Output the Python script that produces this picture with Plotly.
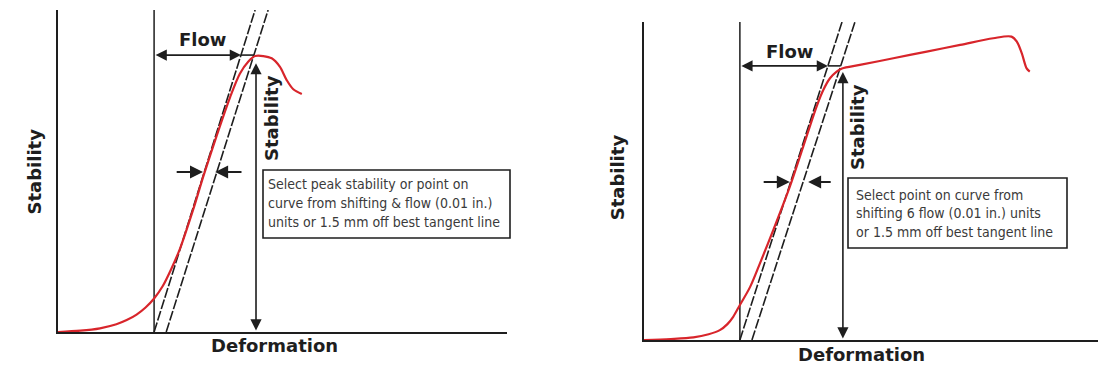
import plotly.graph_objects as go

# Marshall test curves: stability vs deformation (arbitrary units 0-100)
left_deformation = [0, 5.0, 9.35, 13.0, 15.3, 17.5, 19.5, 21.4, 23.3, 25.2, 27.2,
                    30.1, 32.4, 35.4, 38.3, 40.5, 42.4, 43.9, 45.7, 47.6, 49.4, 50.9,
                    52.4, 54.3]
left_stability = [0, 0.4, 1.15, 2.4, 3.7, 5.4, 7.6, 10.4, 14.2, 19.5, 26.0,
                  38.0, 48.5, 61.2, 72.8, 80.2, 84.0, 85.7, 85.7, 85.0, 82.4, 78.3,
                  75.4, 73.9]

right_deformation = [0, 6.0, 11.1, 14.5, 17.0, 18.7, 20.0, 21.5, 23.8, 26.0, 29.0,
                     32.7, 35.7, 38.7, 40.2, 41.7, 43.2, 44.4, 48.4, 55.9, 63.4, 70.9,
                     78.3, 82.4, 83.6, 84.7, 85.8, 86.5]
right_stability = [0, 0.3, 0.8, 1.8, 3.1, 5.0, 7.3, 11.0, 16.7, 24.1, 34.6,
                   48.2, 60.8, 73.4, 78.6, 82.3, 84.4, 85.4, 86.5, 88.6, 90.7, 92.8,
                   94.9, 95.4, 93.8, 90.2, 85.4, 84.4]

# flow origin and parallel tangent lines (bottom x, top x) per panel
flow_origin = [21.4, 21.5]
tangent1 = [(21.4, 43.9), (21.5, 44.4)]
tangent2 = [(24.1, 46.8), (24.2, 47.3)]
# stability reading (x position, value) and flow level
stability_reading = [(44.1, 83.5), (44.6, 84.3)]
flow_level = [86.0, 86.2]
# offset markers (left tail, left tip, right tail, right tip, level)
offset_marks = [(26.1, 32.3, 41.2, 35.0, 49.7), (26.5, 32.7, 42.2, 36.8, 49.7)]

note_lines = [
    ["Select peak stability or point on",
     "curve from shifting & flow (0.01 in.)",
     "units or 1.5 mm off best tangent line"],
    ["Select point on curve from",
     "shifting 6 flow (0.01 in.) units",
     "or 1.5 mm off best tangent line"],
]

W, H = 1098, 377
RED = "#d8252b"
INK = "#1e1e1e"
BOLD = "DejaVu Sans"
NOTE_FONT = "DejaVu Sans Condensed, DejaVu Sans"

fig = go.Figure()

panels = [
    dict(xa="x", ya="y", xd=[58 / W, 507 / W], yd=[(H - 332) / H, (H - 10) / H],
         xr=[0, 100], yr=[0, 100], curve=(left_deformation, left_stability),
         box_px=(263, 510, 170, 238), textx=46.3, texty=[45.9, 40.2, 34.3],
         flowtxt=(32.1, 90.7), stabtxt=(47.7, 66.5),
         deform=(0.483, -0.081), ytitle=(-0.080, 0.497)),
    dict(xa="x2", ya="y2", xd=[644 / W, 1.0], yd=[(H - 340) / H, (H - 22) / H],
         xr=[0, 101.8], yr=[0, 100], curve=(right_deformation, right_stability),
         box_px=(848, 1067, 178, 248), textx=47.0, texty=[45.6, 39.9, 34.0],
         flowtxt=(32.7, 90.6), stabtxt=(48.0, 67.0),
         deform=(0.48, -0.085), ytitle=(-0.086, 0.513)),
]

annotations = []
shapes = []

for i, p in enumerate(panels):
    xa, ya = p["xa"], p["ya"]
    # flow origin vertical line
    fig.add_trace(go.Scatter(x=[flow_origin[i], flow_origin[i]], y=[0, 100],
                             mode="lines", line=dict(color=INK, width=1.5),
                             xaxis=xa, yaxis=ya, hoverinfo="skip"))
    # parallel tangent lines
    for t in (tangent1[i], tangent2[i]):
        fig.add_trace(go.Scatter(x=[t[0], t[1]], y=[0, 100], mode="lines",
                                 line=dict(color=INK, width=1.6, dash="10px,2px"),
                                 xaxis=xa, yaxis=ya, hoverinfo="skip"))
    # test curve
    cx, cy = p["curve"]
    fig.add_trace(go.Scatter(x=cx, y=cy, mode="lines",
                             line=dict(color=RED, width=2.2, shape="spline", smoothing=0.9),
                             xaxis=xa, yaxis=ya, hoverinfo="skip"))

    # flow arrow between origin and first tangent line
    fl = flow_level[i]
    t1 = tangent1[i]
    t2 = tangent2[i]
    x_t1 = t1[0] + (t1[1] - t1[0]) * fl / 100
    x_t2 = t2[0] + (t2[1] - t2[0]) * fl / 100
    fig.add_trace(go.Scatter(x=[x_t1, x_t2], y=[fl, fl], mode="lines",
                             line=dict(color=INK, width=1.6),
                             xaxis=xa, yaxis=ya, hoverinfo="skip"))
    annotations.append(dict(x=x_t1, y=fl, ax=flow_origin[i], ay=fl, xref=xa, yref=ya,
                            axref=xa, ayref=ya, showarrow=True, arrowside="end+start",
                            arrowhead=2, arrowsize=1.4, arrowwidth=1.6, arrowcolor=INK,
                            text=""))
    # stability double arrow
    sx, sv = stability_reading[i]
    annotations.append(dict(x=sx, y=sv, ax=sx, ay=0, xref=xa, yref=ya,
                            axref=xa, ayref=ya, showarrow=True, arrowside="end+start",
                            arrowhead=2, arrowsize=1.4, arrowwidth=1.6, arrowcolor=INK,
                            text=""))
    # offset markers
    lt, lh, rt, rh, lv = offset_marks[i]
    for tail, tip in ((lt, lh), (rt, rh)):
        annotations.append(dict(x=tip, y=lv, ax=tail, ay=lv, xref=xa, yref=ya,
                                axref=xa, ayref=ya, showarrow=True,
                                arrowhead=2, arrowsize=1.3, arrowwidth=2,
                                arrowcolor=INK, text=""))
    # note box
    bx0, bx1, by0, by1 = p["box_px"]
    shapes.append(dict(type="rect", xref="paper", yref="paper",
                       x0=bx0 / W, x1=bx1 / W, y0=(H - by1) / H, y1=(H - by0) / H,
                       line=dict(color=INK, width=1.6), fillcolor="rgba(0,0,0,0)"))
    for line, ty in zip(note_lines[i], p["texty"]):
        annotations.append(dict(x=p["textx"], y=ty, xref=xa, yref=ya, text=line,
                                showarrow=False, xanchor="left", yanchor="middle",
                                font=dict(family=NOTE_FONT, size=14, color="#3a3a3a")))
    # labels
    annotations.append(dict(x=p["flowtxt"][0], y=p["flowtxt"][1], xref=xa, yref=ya,
                            text="<b>Flow</b>", showarrow=False,
                            font=dict(family=BOLD, size=18, color=INK)))
    annotations.append(dict(x=p["stabtxt"][0], y=p["stabtxt"][1], xref=xa, yref=ya,
                            text="<b>Stability</b>", showarrow=False, textangle=-90,
                            font=dict(family=BOLD, size=18, color=INK)))
    annotations.append(dict(x=p["deform"][0], y=p["deform"][1],
                            xref=f"{xa} domain", yref=f"{ya} domain",
                            text="<b>Deformation</b>", showarrow=False,
                            font=dict(family=BOLD, size=18, color=INK)))
    annotations.append(dict(x=p["ytitle"][0], y=p["ytitle"][1],
                            xref=f"{xa} domain", yref=f"{ya} domain",
                            text="<b>Stability</b>", showarrow=False, textangle=-90,
                            font=dict(family=BOLD, size=18, color=INK)))

axis_common = dict(showgrid=False, zeroline=False, showticklabels=False, ticks="",
                   showline=True, linecolor=INK, linewidth=2, fixedrange=True)

fig.update_layout(
    width=W, height=H, margin=dict(l=0, r=0, t=0, b=0),
    paper_bgcolor="white", plot_bgcolor="white", showlegend=False,
    xaxis=dict(domain=panels[0]["xd"], range=panels[0]["xr"], anchor="y", **axis_common),
    yaxis=dict(domain=panels[0]["yd"], range=panels[0]["yr"], anchor="x", **axis_common),
    xaxis2=dict(domain=panels[1]["xd"], range=panels[1]["xr"], anchor="y2", **axis_common),
    yaxis2=dict(domain=panels[1]["yd"], range=panels[1]["yr"], anchor="x2", **axis_common),
    annotations=annotations, shapes=shapes,
)

fig.write_html("out.html")
